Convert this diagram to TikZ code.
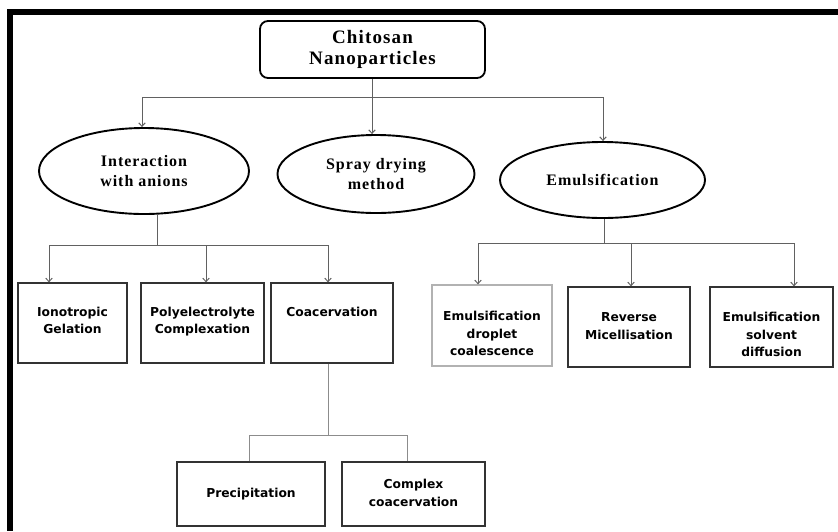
\documentclass[tikz,border=0pt]{standalone}
\usepackage{fontspec}
\setmainfont{Liberation Serif}
\newfontfamily\boxfont{DejaVu Sans}
\usetikzlibrary{shapes.geometric,arrows.meta}
\newcommand\boxtxt[2]{\smash{\raisebox{#1}{\renewcommand\arraystretch{1}\begin{tabular}{@{}c@{}}#2\end{tabular}}}}
\tikzset{
  conn/.style={draw=black!62,line width=1pt},
  arr/.style={conn,-{Straight Barb[length=3.5pt,width=6.5pt]}},
  rootbox/.style={draw=black,line width=1.8pt,rounded corners=8pt,minimum width=225pt,minimum height=57pt,inner sep=0pt,align=center,
    font=\addfontfeatures{LetterSpace=6}\fontsize{19}{21}\selectfont\bfseries},
  ell/.style={ellipse,draw=black,line width=1.9pt,inner sep=0pt,align=center,
    font=\addfontfeatures{LetterSpace=6}\fontsize{16}{20}\selectfont\bfseries},
  mbox/.style={draw=black!80,line width=1.3pt,inner sep=0pt,
    font=\boxfont\fontsize{12.3}{17.5}\selectfont\bfseries},
}
\begin{document}
\begin{tikzpicture}[x=1pt,y=-1pt]
\useasboundingbox (0,0) rectangle (838,531);
% frame
\fill[black] (7,9) rectangle (838,15);
\fill[black] (7,9) rectangle (13,531);
% root
\node[rootbox] (root) at (372.5,49.5) {Chitosan\\Nanoparticles};
% ellipses
\node[ell,minimum width=210pt,minimum height=86pt] (inter) at (144,171) {Interaction\\with anions};
\node[ell,minimum width=197pt,minimum height=78pt] (spray) at (376,174) {Spray drying\\method};
\node[ell,minimum width=205pt,minimum height=76pt] (emul) at (602.5,180) {Emulsification};
% boxes row 1
\node[mbox,minimum width=109pt,minimum height=80pt] (iono) at (72.5,323) {\boxtxt{-1.5pt}{Ionotropic\\Gelation}};
\node[mbox,minimum width=123pt,minimum height=80pt] (poly) at (202.5,323) {\boxtxt{-1.5pt}{Polyelectrolyte\\Complexation}};
\node[mbox,minimum width=122pt,minimum height=80pt] (coac) at (332,323) {\boxtxt{7pt}{Coacervation}};
% boxes row 1 right
\node[mbox,draw=black!30,minimum width=120pt,minimum height=81pt] (drop) at (492,325.5) {\boxtxt{-12pt}{Emulsification\\droplet\\coalescence}};
\node[mbox,minimum width=122pt,minimum height=80pt] (rev) at (629,327) {\boxtxt{-3pt}{Reverse\\Micellisation}};
\node[mbox,minimum width=123pt,minimum height=80pt] (solv) at (771.5,327) {\boxtxt{-11.5pt}{Emulsification\\solvent\\diffusion}};
% boxes row 3
\node[mbox,minimum width=148pt,minimum height=64pt] (prec) at (251,494) {\boxtxt{-3pt}{Precipitation}};
\node[mbox,minimum width=143pt,minimum height=64pt] (comp) at (413.5,494) {\boxtxt{-3pt}{Complex\\coacervation}};
% top connectors
\coordinate (b0) at (372,97);
\coordinate (bl) at (142,97);
\coordinate (br) at (603,97);
\draw[conn] (bl) -- (br);
\draw[arr] (b0 |- root.south) -- (b0 |- spray.north);
\draw[arr] (bl) -- (bl |- inter.north);
\draw[arr] (br) -- (br |- emul.north);
% left bus
\coordinate (s1) at (157,245);
\coordinate (l1) at (49,245);
\coordinate (l2) at (206,245);
\coordinate (l3) at (328,245);
\draw[conn] (s1 |- inter.south) -- (s1);
\draw[conn] (l1) -- (l3);
\draw[arr] (l1) -- (l1 |- iono.north);
\draw[arr] (l2) -- (l2 |- poly.north);
\draw[arr] (l3) -- (l3 |- coac.north);
% right bus
\coordinate (s2) at (604,243);
\coordinate (r1) at (478,243);
\coordinate (r2) at (631,243);
\coordinate (r3) at (794,243);
\draw[conn] (s2 |- emul.south) -- (s2);
\draw[conn] (r1) -- (r3);
\draw[arr] (r1) -- (r1 |- drop.north);
\draw[arr] (r2) -- (r2 |- rev.north);
\draw[arr] (r3) -- (r3 |- solv.north);
% coacervation bus
\coordinate (c0) at (328,435);
\coordinate (c1) at (249,435);
\coordinate (c2) at (407,435);
\draw[conn,draw=black!45] (c0 |- coac.south) -- (c0);
\draw[conn,draw=black!45] (c1 |- prec.north) -- (c1) -- (c2) -- (c2 |- comp.north);
\end{tikzpicture}
\end{document}
